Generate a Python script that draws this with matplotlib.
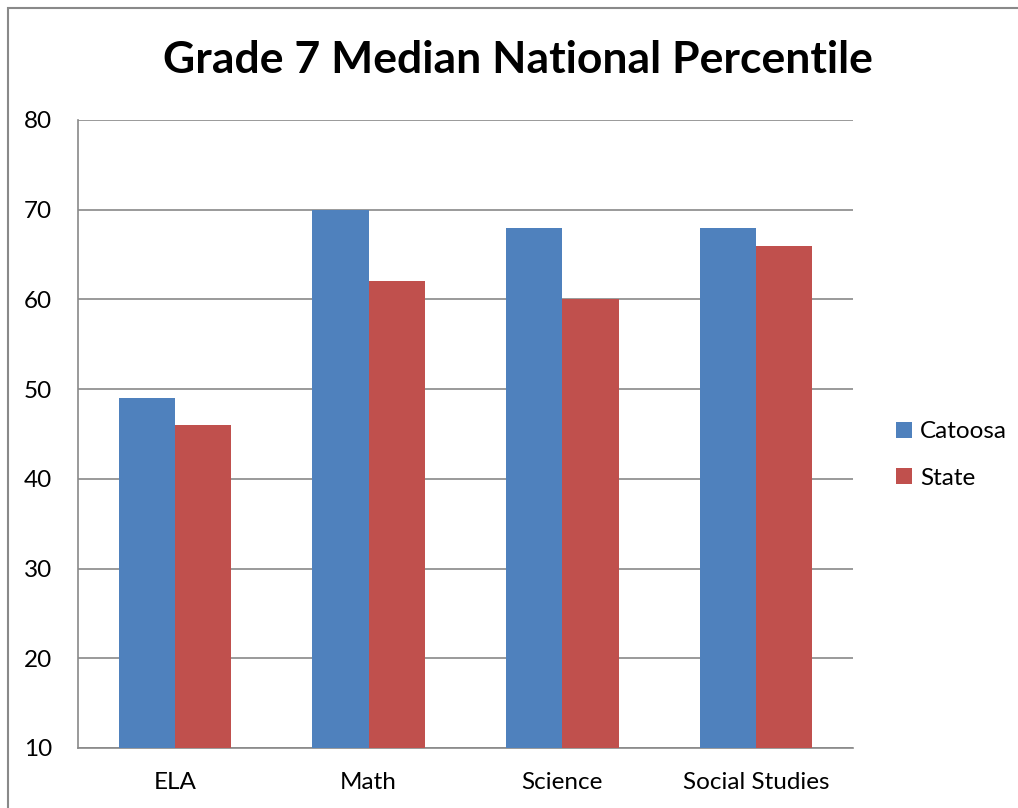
import matplotlib
matplotlib.use("Agg")
import matplotlib.pyplot as plt
import numpy as np
from matplotlib.patches import Rectangle

categories = ["ELA", "Math", "Science", "Social Studies"]
series_names = ["Catoosa", "State"]
catoosa = [49, 70, 68, 68]
state = [46, 62, 60, 66]
yticks = [10, 20, 30, 40, 50, 60, 70, 80]

W, H = 1018, 808
fig = plt.figure(figsize=(W / 100, H / 100), dpi=100)
plt.rcParams['font.family'] = ['Lato', 'DejaVu Sans']

# outer chart border
fig.patches.append(Rectangle((8 / W, -0.1), 1.2, (H - 8) / H + 0.1, transform=fig.transFigure,
                             fill=False, edgecolor='#898989', linewidth=1.5))

ax = fig.add_axes([78 / W, (H - 748) / H, (853 - 78) / W, (748 - 120) / H])
x = np.arange(len(categories))
bw = 0.29
ax.bar(x - bw / 2, catoosa, bw, bottom=0, color='#4F81BD', label=series_names[0], zorder=3)
ax.bar(x + bw / 2, state, bw, bottom=0, color='#C0504D', label=series_names[1], zorder=3)
ax.set_ylim(10, 80)
ax.set_xlim(-0.5, len(categories) - 0.5)
ax.set_yticks(yticks)
ax.set_xticks(x)
ax.set_xticklabels(categories, fontsize=17.5)
ax.tick_params(axis='y', labelsize=17.5, length=0, pad=18.5)
ax.tick_params(axis='x', length=0, pad=17)
ax.yaxis.grid(True, color='#898989', linewidth=1.2, zorder=0)
for s in ['top', 'right']:
    ax.spines[s].set_visible(False)
for s in ['left', 'bottom']:
    ax.spines[s].set_color('#898989')
    ax.spines[s].set_linewidth(1.2)

fig.text(518 / W, 1 - 60 / H, "Grade 7 Median National Percentile", ha='center', va='center',
         fontsize=32, fontweight='bold')

fig.legend(loc='center left', bbox_to_anchor=(874 / W, 1 - 455 / H), frameon=False,
           fontsize=17.5, handlelength=0.65, handleheight=0.65, handletextpad=0.35,
           labelspacing=1.05)

fig.savefig("out.png", dpi=100)
